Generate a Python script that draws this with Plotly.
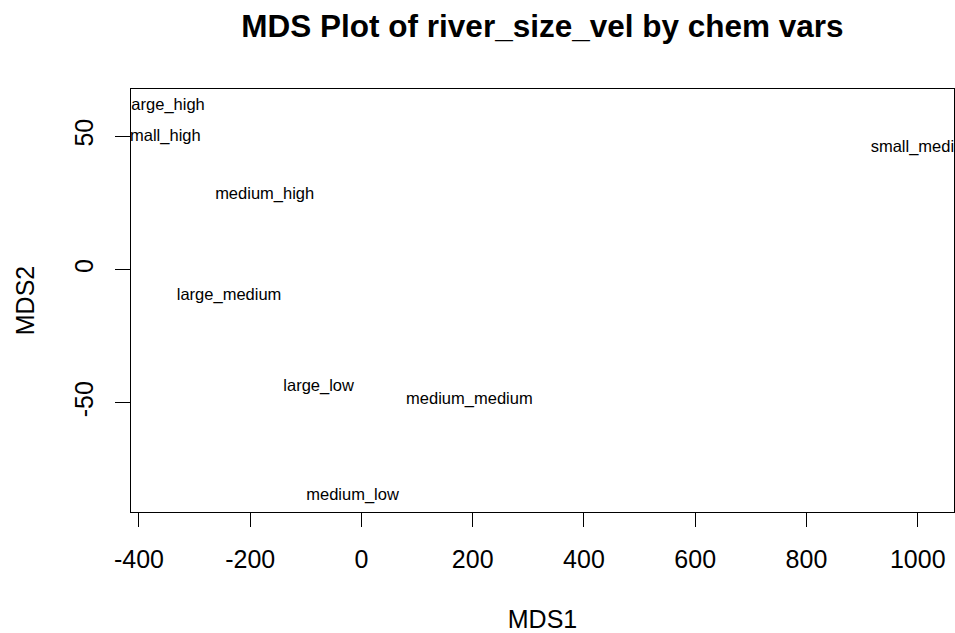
import plotly.graph_objects as go

labels = ["large_high", "small_high", "medium_high", "large_medium",
          "large_low", "medium_medium", "medium_low", "small_medium"]
mds1 = [-351, -360, -174, -238, -77, 194, -16, 1011]
mds2 = [61.6, 49.8, 28.1, -9.8, -43.8, -48.8, -85.0, 45.6]

x_ticks = [-400, -200, 0, 200, 400, 600, 800, 1000]
x_ticktext = ["-400", "-200", "0", "200", "400", "600", "800", "1000"]
y_ticks = [-50, 0, 50]
y_ticktext = ["-50", "0", "50"]

FONT = "Liberation Sans, Arial, sans-serif"

fig = go.Figure()
fig.add_trace(go.Scatter(
    x=mds1, y=mds2, text=labels, mode="text",
    textposition="middle center",
    textfont=dict(family=FONT, size=16.5, color="black"),
    cliponaxis=True, hoverinfo="text", showlegend=False,
))

axis_common = dict(
    showgrid=False, zeroline=False,
    showline=True, linecolor="black", linewidth=1, mirror=True,
    ticks="outside", tickcolor="black", tickwidth=1,
    tickfont=dict(family=FONT, size=25, color="black"),
)

fig.update_layout(
    width=955, height=633,
    margin=dict(l=131, r=1, t=89, b=121),
    paper_bgcolor="white", plot_bgcolor="white",
    title=dict(text="<b>MDS Plot of river_size_vel by chem vars</b>",
               font=dict(family=FONT, size=31.5, color="black"),
               x=0.5, xref="paper", xanchor="center",
               y=1 - 26 / 633, yref="container", yanchor="middle"),
    xaxis=dict(range=[-414.3, 1065.2], tickvals=x_ticks, ticktext=x_ticktext,
               ticklen=14, ticklabelstandoff=11,
               title=dict(text="MDS1", font=dict(family=FONT, size=25, color="black"),
                          standoff=38),
               **axis_common),
    yaxis=dict(range=[-90.9, 67.8], tickvals=y_ticks, ticktext=y_ticktext,
               ticklen=15, tickangle=-90, ticklabelstandoff=12,
               title=dict(text="MDS2", font=dict(family=FONT, size=25, color="black"),
                          standoff=28),
               **axis_common),
)

fig.write_html("out.html", config={"displayModeBar": False},
               post_script="document.body.style.margin='0';document.body.style.overflow='hidden';")
